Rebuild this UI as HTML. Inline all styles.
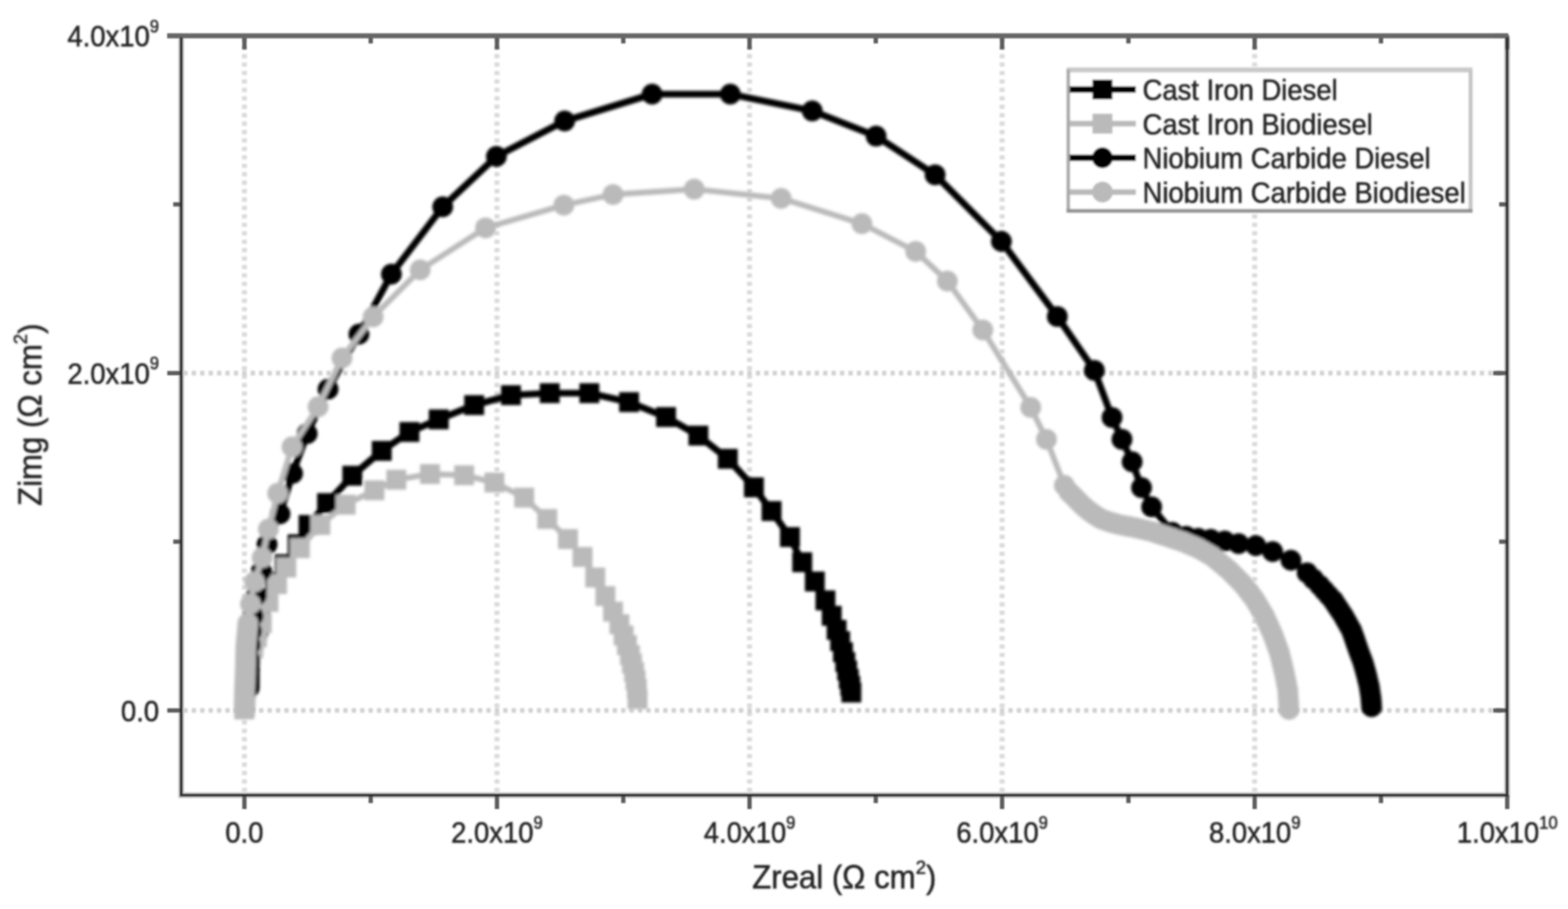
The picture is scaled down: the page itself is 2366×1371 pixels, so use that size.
<!DOCTYPE html>
<html lang="en"><head><meta charset="utf-8"><title>Nyquist plot</title>
<style>
html,body{margin:0;padding:0;background:#fff;}
body{width:2366px;height:1371px;overflow:hidden;}
svg{display:block;}
text{font-family:"Liberation Sans",Arial,sans-serif;fill:#222;stroke:#222;stroke-width:0.7px;}
.tk{font-size:41.4px;}
.sp{font-size:25px;}
.ax{font-size:47px;}
.sa{font-size:28px;}
.lg{font-size:41.4px;}
</style></head><body>
<svg width="2366" height="1371" viewBox="0 0 2366 1371">
<defs>
<filter id="bg" filterUnits="userSpaceOnUse" x="0" y="0" width="2366" height="1371"><feGaussianBlur stdDeviation="1.5"/></filter>
<filter id="bf" filterUnits="userSpaceOnUse" x="0" y="0" width="2366" height="1371"><feGaussianBlur stdDeviation="1.3"/></filter>
<filter id="bs" filterUnits="userSpaceOnUse" x="0" y="0" width="2366" height="1371"><feGaussianBlur stdDeviation="1.9"/></filter>
<filter id="bt" filterUnits="userSpaceOnUse" x="0" y="0" width="2366" height="1371"><feGaussianBlur stdDeviation="1.7"/></filter>
<filter id="bl" filterUnits="userSpaceOnUse" x="0" y="0" width="2366" height="1371"><feGaussianBlur stdDeviation="1.6"/></filter>
</defs>
<rect width="2366" height="1371" fill="#fff"/>
<g filter="url(#bg)" fill="none"><path d="M368.8 53.5V1199.2M749.9 53.5V1199.2M1131 53.5V1199.2M1512.1 53.5V1199.2M1893.2 53.5V1199.2" stroke="#d9d9d9" stroke-width="7.5" stroke-dasharray="6.36 6.36" stroke-dashoffset="-2.6"/><path d="M273.4 1071.5H2274.1M273.4 562.7H2274.1" stroke="#cfcfcf" stroke-width="7" stroke-dasharray="6.35 6.353" stroke-dashoffset="9.4"/></g>
<g filter="url(#bs)">
<polyline fill="none" stroke="#050505" stroke-width="10.2" stroke-linejoin="round" points="369,1066 369.3,1060 369.7,1054 370,1048 370.3,1042 370.7,1036 371,1030 371.6,1024 372.2,1018 372.8,1012 373.4,1006 374,1000 375.3,994 376.7,988 378,982 379.5,976.8 381,971.5 382.5,966.2 384,961 386,955.2 388,949.5 390,943.8 392,938 402,906 415,878 429.5,851 449,821 465.6,791.7 493.5,758.7 531.6,717.5 576,680 617.8,651.6 662,632.5 715.5,611 771,596 829.5,593 889.3,593 949.2,606.4 1005,629 1053.8,657 1098.2,692 1137.6,735 1164.2,770.7 1192,810 1210.5,848 1229.5,877 1245.5,905.6 1255,928.8 1262.4,950 1267.7,967 1272,983.8 1275.5,998.6 1278.3,1011.3 1280.8,1024 1283,1034.6 1284.6,1044.5"/>
<path fill="#050505" d="M354 1051h30v30h-30zM354.3 1045h30v30h-30zM354.7 1039h30v30h-30zM355 1033h30v30h-30zM355.3 1027h30v30h-30zM355.7 1021h30v30h-30zM356 1015h30v30h-30zM356.6 1009h30v30h-30zM357.2 1003h30v30h-30zM357.8 997h30v30h-30zM358.4 991h30v30h-30zM359 985h30v30h-30zM360.3 979h30v30h-30zM361.7 973h30v30h-30zM363 967h30v30h-30zM364.5 961.8h30v30h-30zM366 956.5h30v30h-30zM367.5 951.2h30v30h-30zM369 946h30v30h-30zM371 940.2h30v30h-30zM373 934.5h30v30h-30zM375 928.8h30v30h-30zM377 923h30v30h-30zM387 891h30v30h-30zM400 863h30v30h-30zM414.5 836h30v30h-30zM434 806h30v30h-30zM450.6 776.7h30v30h-30zM478.5 743.7h30v30h-30zM516.6 702.5h30v30h-30zM561 665h30v30h-30zM602.8 636.6h30v30h-30zM647 617.5h30v30h-30zM700.5 596h30v30h-30zM756 581h30v30h-30zM814.5 578h30v30h-30zM874.3 578h30v30h-30zM934.2 591.4h30v30h-30zM990 614h30v30h-30zM1038.8 642h30v30h-30zM1083.2 677h30v30h-30zM1122.6 720h30v30h-30zM1149.2 755.7h30v30h-30zM1177 795h30v30h-30zM1195.5 833h30v30h-30zM1214.5 862h30v30h-30zM1230.5 890.6h30v30h-30zM1240 913.8h30v30h-30zM1247.4 935h30v30h-30zM1252.7 952h30v30h-30zM1257 968.8h30v30h-30zM1260.5 983.6h30v30h-30zM1263.3 996.3h30v30h-30zM1265.8 1009h30v30h-30zM1268 1019.6h30v30h-30zM1269.6 1029.5h30v30h-30z"/>
<polyline fill="none" stroke="#bababa" stroke-width="8.6" stroke-linejoin="round" points="368.5,1070 368.9,1063.3 369.3,1056.7 369.8,1050 370.2,1043.3 370.6,1036.7 371,1030 371.9,1023.8 372.8,1017.5 373.6,1011.2 374.5,1005 375.7,1000 376.8,995 378,990 382,978 387.5,961 395,940 405,908 418,881 432,856 452.5,826.7 483.4,791.7 521.5,761.2 565,739.5 598,723.5 648.8,715 700.4,716.7 746,727.7 791,750.5 825.7,782.7 857,813 879,840 898.2,871 913.5,899 925,922.5 934.6,941.5 941,958.4 946,973 950.5,988 953.6,1000.7 956.8,1013.4 959,1026 961,1039 962,1054.5"/>
<path fill="#bababa" d="M353.5 1055h30v30h-30zM353.9 1048.3h30v30h-30zM354.3 1041.7h30v30h-30zM354.8 1035h30v30h-30zM355.2 1028.3h30v30h-30zM355.6 1021.7h30v30h-30zM356 1015h30v30h-30zM356.9 1008.8h30v30h-30zM357.8 1002.5h30v30h-30zM358.6 996.2h30v30h-30zM359.5 990h30v30h-30zM360.7 985h30v30h-30zM361.8 980h30v30h-30zM363 975h30v30h-30zM367 963h30v30h-30zM372.5 946h30v30h-30zM380 925h30v30h-30zM390 893h30v30h-30zM403 866h30v30h-30zM417 841h30v30h-30zM437.5 811.7h30v30h-30zM468.4 776.7h30v30h-30zM506.5 746.2h30v30h-30zM550 724.5h30v30h-30zM583 708.5h30v30h-30zM633.8 700h30v30h-30zM685.4 701.7h30v30h-30zM731 712.7h30v30h-30zM776 735.5h30v30h-30zM810.7 767.7h30v30h-30zM842 798h30v30h-30zM864 825h30v30h-30zM883.2 856h30v30h-30zM898.5 884h30v30h-30zM910 907.5h30v30h-30zM919.6 926.5h30v30h-30zM926 943.4h30v30h-30zM931 958h30v30h-30zM935.5 973h30v30h-30zM938.6 985.7h30v30h-30zM941.8 998.4h30v30h-30zM944 1011h30v30h-30zM946 1024h30v30h-30zM947 1039.5h30v30h-30z"/>
<polyline fill="none" stroke="#050505" stroke-width="10.2" stroke-linejoin="round" points="376,1037 376,1031.5 376,1026 376,1020.5 376,1015 376.1,1010 376.2,1005 376.4,1000 376.5,995 377.5,972.5 379.5,952 382,929 387,898 394.5,861 403,821 422.5,775 441.5,714 463.5,654 495,587 541.6,504 590.6,413.5 668,312 749,236 852,182.5 984,142 1102,142 1225.6,167.3 1322,205.3 1411,263.7 1511,364 1595.4,477.4 1651.3,558.6 1678,629.7 1693,662.7 1708.3,696.5 1722.5,735.5 1737.7,764.5 1769,803 1790,809 1808,812 1827,813.5 1848,816 1869,820 1895,823 1920.4,832 1948,845 1972.4,864 1982,873.5 1991.5,883 1998.3,890.6 2005,898.1 2011.8,905.7 2011.8,905.7 2014.8,910.3 2017.9,914.9 2020.9,919.4 2024,924 2027,928.6 2029.5,933.2 2032.1,937.7 2034.6,942.3 2037.2,946.8 2039.7,951.4 2041.3,956.2 2043,960.9 2044.7,965.7 2046.3,970.5 2047.9,975.2 2049.6,980 2051.4,985 2053.3,990 2055.2,995 2057,1000 2058.2,1004.5 2059.5,1009 2060.8,1013.5 2062,1018 2063.3,1023.7 2064.7,1029.3 2066,1035 2066.9,1040.7 2067.7,1046.3 2068.6,1052 2069,1056.7 2069.3,1061.3 2069.7,1066"/>
<g fill="#050505"><circle cx="376" cy="1037" r="15.7"/><circle cx="376" cy="1031.5" r="15.7"/><circle cx="376" cy="1026" r="15.7"/><circle cx="376" cy="1020.5" r="15.7"/><circle cx="376" cy="1015" r="15.7"/><circle cx="376.1" cy="1010" r="15.7"/><circle cx="376.2" cy="1005" r="15.7"/><circle cx="376.4" cy="1000" r="15.7"/><circle cx="376.5" cy="995" r="15.7"/><circle cx="377.5" cy="972.5" r="15.7"/><circle cx="379.5" cy="952" r="15.7"/><circle cx="382" cy="929" r="15.7"/><circle cx="387" cy="898" r="15.7"/><circle cx="394.5" cy="861" r="15.7"/><circle cx="403" cy="821" r="15.7"/><circle cx="422.5" cy="775" r="15.7"/><circle cx="441.5" cy="714" r="15.7"/><circle cx="463.5" cy="654" r="15.7"/><circle cx="495" cy="587" r="15.7"/><circle cx="541.6" cy="504" r="15.7"/><circle cx="590.6" cy="413.5" r="15.7"/><circle cx="668" cy="312" r="15.7"/><circle cx="749" cy="236" r="15.7"/><circle cx="852" cy="182.5" r="15.7"/><circle cx="984" cy="142" r="15.7"/><circle cx="1102" cy="142" r="15.7"/><circle cx="1225.6" cy="167.3" r="15.7"/><circle cx="1322" cy="205.3" r="15.7"/><circle cx="1411" cy="263.7" r="15.7"/><circle cx="1511" cy="364" r="15.7"/><circle cx="1595.4" cy="477.4" r="15.7"/><circle cx="1651.3" cy="558.6" r="15.7"/><circle cx="1678" cy="629.7" r="15.7"/><circle cx="1693" cy="662.7" r="15.7"/><circle cx="1708.3" cy="696.5" r="15.7"/><circle cx="1722.5" cy="735.5" r="15.7"/><circle cx="1737.7" cy="764.5" r="15.7"/><circle cx="1769" cy="803" r="15.7"/><circle cx="1790" cy="809" r="15.7"/><circle cx="1808" cy="812" r="15.7"/><circle cx="1827" cy="813.5" r="15.7"/><circle cx="1848" cy="816" r="15.7"/><circle cx="1869" cy="820" r="15.7"/><circle cx="1895" cy="823" r="15.7"/><circle cx="1920.4" cy="832" r="15.7"/><circle cx="1948" cy="845" r="15.7"/><circle cx="1972.4" cy="864" r="15.7"/><circle cx="1982" cy="873.5" r="15.7"/><circle cx="1991.5" cy="883" r="15.7"/><circle cx="1998.3" cy="890.6" r="15.7"/><circle cx="2005" cy="898.1" r="15.7"/><circle cx="2011.8" cy="905.7" r="15.7"/><circle cx="2011.8" cy="905.7" r="15.7"/><circle cx="2014.8" cy="910.3" r="15.7"/><circle cx="2017.9" cy="914.9" r="15.7"/><circle cx="2020.9" cy="919.4" r="15.7"/><circle cx="2024" cy="924" r="15.7"/><circle cx="2027" cy="928.6" r="15.7"/><circle cx="2029.5" cy="933.2" r="15.7"/><circle cx="2032.1" cy="937.7" r="15.7"/><circle cx="2034.6" cy="942.3" r="15.7"/><circle cx="2037.2" cy="946.8" r="15.7"/><circle cx="2039.7" cy="951.4" r="15.7"/><circle cx="2041.3" cy="956.2" r="15.7"/><circle cx="2043" cy="960.9" r="15.7"/><circle cx="2044.7" cy="965.7" r="15.7"/><circle cx="2046.3" cy="970.5" r="15.7"/><circle cx="2047.9" cy="975.2" r="15.7"/><circle cx="2049.6" cy="980" r="15.7"/><circle cx="2051.4" cy="985" r="15.7"/><circle cx="2053.3" cy="990" r="15.7"/><circle cx="2055.2" cy="995" r="15.7"/><circle cx="2057" cy="1000" r="15.7"/><circle cx="2058.2" cy="1004.5" r="15.7"/><circle cx="2059.5" cy="1009" r="15.7"/><circle cx="2060.8" cy="1013.5" r="15.7"/><circle cx="2062" cy="1018" r="15.7"/><circle cx="2063.3" cy="1023.7" r="15.7"/><circle cx="2064.7" cy="1029.3" r="15.7"/><circle cx="2066" cy="1035" r="15.7"/><circle cx="2066.9" cy="1040.7" r="15.7"/><circle cx="2067.7" cy="1046.3" r="15.7"/><circle cx="2068.6" cy="1052" r="15.7"/><circle cx="2069" cy="1056.7" r="15.7"/><circle cx="2069.3" cy="1061.3" r="15.7"/><circle cx="2069.7" cy="1066" r="15.7"/></g>
<polyline fill="none" stroke="#bababa" stroke-width="8.6" stroke-linejoin="round" points="368.5,1070 368.6,1064 368.7,1058 368.8,1052 368.9,1046 369,1040 369.2,1034.2 369.5,1028.5 369.8,1022.8 370,1017 370.1,1010.9 370.3,1004.7 370.4,998.6 370.6,992.4 370.7,986.3 370.9,980.1 371,974 371.6,967.2 372.2,960.4 372.8,953.6 373.4,946.8 374,940 378,911 384,877.7 395.6,841 405,798 419,744 440.6,674 480,613.5 516,540 563,478 634,407 732.7,343.7 850.8,309.4 925,293.4 1047.5,285.3 1178.7,299.2 1300.5,337.3 1381.7,379.2 1429.5,424 1483,497.7 1555.3,614.5 1579,662.7 1606,732 1613,742 1617.2,746 1621.3,750 1626.2,755 1631,760 1636.3,764.8 1641.7,769.5 1646.8,773.2 1652,777 1657,780 1662,783 1668.5,785.2 1675,787.5 1681.3,789.2 1687.7,791 1696.2,792.7 1704.7,794.3 1713.2,796 1721.7,798 1730.3,800 1738.8,802 1746,804.3 1753.2,806.7 1760.4,809 1768.8,811.8 1777.3,814.7 1785.7,817.5 1793.1,820.7 1800.6,823.8 1808,827 1815,831 1822,835 1829,839 1835.3,844.2 1841.7,849.5 1848.1,854.8 1854.4,860 1859.5,865.1 1864.6,870.2 1869.6,875.3 1874.7,880.4 1879.2,886 1883.6,891.7 1888,897.4 1892.5,903 1896.3,909.4 1900.1,915.8 1903.9,922.2 1907.7,928.6 1910.9,935.6 1914.1,942.5 1917.2,949.5 1920.4,956.5 1923,963.5 1925.5,970.5 1928,977.4 1930.6,984.4 1932.4,992 1934.3,999.7 1936.2,1007.4 1938,1015 1939.7,1023.3 1941.3,1031.7 1943,1040 1943.5,1047.5 1944,1055 1944.5,1062.5 1945,1070"/>
<g fill="#bababa"><circle cx="368.5" cy="1070" r="15.7"/><circle cx="368.6" cy="1064" r="15.7"/><circle cx="368.7" cy="1058" r="15.7"/><circle cx="368.8" cy="1052" r="15.7"/><circle cx="368.9" cy="1046" r="15.7"/><circle cx="369" cy="1040" r="15.7"/><circle cx="369.2" cy="1034.2" r="15.7"/><circle cx="369.5" cy="1028.5" r="15.7"/><circle cx="369.8" cy="1022.8" r="15.7"/><circle cx="370" cy="1017" r="15.7"/><circle cx="370.1" cy="1010.9" r="15.7"/><circle cx="370.3" cy="1004.7" r="15.7"/><circle cx="370.4" cy="998.6" r="15.7"/><circle cx="370.6" cy="992.4" r="15.7"/><circle cx="370.7" cy="986.3" r="15.7"/><circle cx="370.9" cy="980.1" r="15.7"/><circle cx="371" cy="974" r="15.7"/><circle cx="371.6" cy="967.2" r="15.7"/><circle cx="372.2" cy="960.4" r="15.7"/><circle cx="372.8" cy="953.6" r="15.7"/><circle cx="373.4" cy="946.8" r="15.7"/><circle cx="374" cy="940" r="15.7"/><circle cx="378" cy="911" r="15.7"/><circle cx="384" cy="877.7" r="15.7"/><circle cx="395.6" cy="841" r="15.7"/><circle cx="405" cy="798" r="15.7"/><circle cx="419" cy="744" r="15.7"/><circle cx="440.6" cy="674" r="15.7"/><circle cx="480" cy="613.5" r="15.7"/><circle cx="516" cy="540" r="15.7"/><circle cx="563" cy="478" r="15.7"/><circle cx="634" cy="407" r="15.7"/><circle cx="732.7" cy="343.7" r="15.7"/><circle cx="850.8" cy="309.4" r="15.7"/><circle cx="925" cy="293.4" r="15.7"/><circle cx="1047.5" cy="285.3" r="15.7"/><circle cx="1178.7" cy="299.2" r="15.7"/><circle cx="1300.5" cy="337.3" r="15.7"/><circle cx="1381.7" cy="379.2" r="15.7"/><circle cx="1429.5" cy="424" r="15.7"/><circle cx="1483" cy="497.7" r="15.7"/><circle cx="1555.3" cy="614.5" r="15.7"/><circle cx="1579" cy="662.7" r="15.7"/><circle cx="1606" cy="732" r="15.7"/><circle cx="1613" cy="742" r="15.7"/><circle cx="1617.2" cy="746" r="15.7"/><circle cx="1621.3" cy="750" r="15.7"/><circle cx="1626.2" cy="755" r="15.7"/><circle cx="1631" cy="760" r="15.7"/><circle cx="1636.3" cy="764.8" r="15.7"/><circle cx="1641.7" cy="769.5" r="15.7"/><circle cx="1646.8" cy="773.2" r="15.7"/><circle cx="1652" cy="777" r="15.7"/><circle cx="1657" cy="780" r="15.7"/><circle cx="1662" cy="783" r="15.7"/><circle cx="1668.5" cy="785.2" r="15.7"/><circle cx="1675" cy="787.5" r="15.7"/><circle cx="1681.3" cy="789.2" r="15.7"/><circle cx="1687.7" cy="791" r="15.7"/><circle cx="1696.2" cy="792.7" r="15.7"/><circle cx="1704.7" cy="794.3" r="15.7"/><circle cx="1713.2" cy="796" r="15.7"/><circle cx="1721.7" cy="798" r="15.7"/><circle cx="1730.3" cy="800" r="15.7"/><circle cx="1738.8" cy="802" r="15.7"/><circle cx="1746" cy="804.3" r="15.7"/><circle cx="1753.2" cy="806.7" r="15.7"/><circle cx="1760.4" cy="809" r="15.7"/><circle cx="1768.8" cy="811.8" r="15.7"/><circle cx="1777.3" cy="814.7" r="15.7"/><circle cx="1785.7" cy="817.5" r="15.7"/><circle cx="1793.1" cy="820.7" r="15.7"/><circle cx="1800.6" cy="823.8" r="15.7"/><circle cx="1808" cy="827" r="15.7"/><circle cx="1815" cy="831" r="15.7"/><circle cx="1822" cy="835" r="15.7"/><circle cx="1829" cy="839" r="15.7"/><circle cx="1835.3" cy="844.2" r="15.7"/><circle cx="1841.7" cy="849.5" r="15.7"/><circle cx="1848.1" cy="854.8" r="15.7"/><circle cx="1854.4" cy="860" r="15.7"/><circle cx="1859.5" cy="865.1" r="15.7"/><circle cx="1864.6" cy="870.2" r="15.7"/><circle cx="1869.6" cy="875.3" r="15.7"/><circle cx="1874.7" cy="880.4" r="15.7"/><circle cx="1879.2" cy="886" r="15.7"/><circle cx="1883.6" cy="891.7" r="15.7"/><circle cx="1888" cy="897.4" r="15.7"/><circle cx="1892.5" cy="903" r="15.7"/><circle cx="1896.3" cy="909.4" r="15.7"/><circle cx="1900.1" cy="915.8" r="15.7"/><circle cx="1903.9" cy="922.2" r="15.7"/><circle cx="1907.7" cy="928.6" r="15.7"/><circle cx="1910.9" cy="935.6" r="15.7"/><circle cx="1914.1" cy="942.5" r="15.7"/><circle cx="1917.2" cy="949.5" r="15.7"/><circle cx="1920.4" cy="956.5" r="15.7"/><circle cx="1923" cy="963.5" r="15.7"/><circle cx="1925.5" cy="970.5" r="15.7"/><circle cx="1928" cy="977.4" r="15.7"/><circle cx="1930.6" cy="984.4" r="15.7"/><circle cx="1932.4" cy="992" r="15.7"/><circle cx="1934.3" cy="999.7" r="15.7"/><circle cx="1936.2" cy="1007.4" r="15.7"/><circle cx="1938" cy="1015" r="15.7"/><circle cx="1939.7" cy="1023.3" r="15.7"/><circle cx="1941.3" cy="1031.7" r="15.7"/><circle cx="1943" cy="1040" r="15.7"/><circle cx="1943.5" cy="1047.5" r="15.7"/><circle cx="1944" cy="1055" r="15.7"/><circle cx="1944.5" cy="1062.5" r="15.7"/><circle cx="1945" cy="1070" r="15.7"/></g>
</g>
<g filter="url(#bf)" fill="none">
<path d="M273.4 57.5V1199.2H2274.1V57.5" stroke="#cdcdcd" stroke-width="9"/>
<path d="M368.8 1199.2v21M368.8 53.5v21M559.4 1199.2v12M559.4 53.5v12M749.9 1199.2v21M749.9 53.5v21M940.5 1199.2v12M940.5 53.5v12M1131 1199.2v21M1131 53.5v21M1321.5 1199.2v12M1321.5 53.5v12M1512.1 1199.2v21M1512.1 53.5v21M1702.7 1199.2v12M1702.7 53.5v12M1893.2 1199.2v21M1893.2 53.5v21M2083.8 1199.2v12M2083.8 53.5v12M2274.3 1199.2v21M2274.3 53.5v21M273.4 1071.5h-21M2274.1 1071.5h-21M273.4 817.1h-12M2274.1 817.1h-12M273.4 562.7h-21M2274.1 562.7h-21M273.4 308.3h-12M2274.1 308.3h-12M273.4 53.9h-21M2274.1 53.9h-21" stroke="#5c5c5c" stroke-width="6.5"/>
<path d="M252.4 54H2276.1" stroke="#666" stroke-width="7.5"/>
<path d="M273.4 56.5V1199.2H2274.1V56.5" stroke="#2e2e2e" stroke-width="4.6"/>
</g>
<g filter="url(#bl)">
<rect x="1612" y="107" width="607" height="211" fill="#fff"/>
<path d="M1609.5 105.5H2222" fill="none" stroke="#c9c9c9" stroke-width="7.5"/>
<path d="M2219 107V318" fill="none" stroke="#c4c4c4" stroke-width="6"/>
<path d="M1612 105V320" fill="none" stroke="#a6a6a6" stroke-width="5"/>
<path d="M1609.5 318H2222" fill="none" stroke="#909090" stroke-width="5.5"/>
<path d="M1614 135H1714" stroke="#050505" stroke-width="10.2"/><path fill="#050505" d="M1648.5 120h30v30h-30z"/>
<path d="M1614 186.5H1714" stroke="#bababa" stroke-width="8.6"/><path fill="#bababa" d="M1648.5 171.5h30v30h-30z"/>
<path d="M1614 238H1714" stroke="#050505" stroke-width="10.2"/><g fill="#050505"><circle cx="1663.5" cy="238" r="15.7"/></g>
<path d="M1614 289.7H1714" stroke="#bababa" stroke-width="8.6"/><g fill="#bababa"><circle cx="1663.5" cy="289.7" r="15.7"/></g>
</g>
<g filter="url(#bt)">
<text class="lg" transform="translate(1724 151) scale(1 1.07)" text-anchor="start">Cast Iron Diesel</text>
<text class="lg" transform="translate(1724 202.5) scale(1 1.07)" text-anchor="start">Cast Iron Biodiesel</text>
<text class="lg" transform="translate(1724 254) scale(1 1.07)" text-anchor="start">Niobium Carbide Diesel</text>
<text class="lg" transform="translate(1724 305.7) scale(1 1.07)" text-anchor="start">Niobium Carbide Biodiesel</text>
<text class="tk" transform="translate(368.8 1271) scale(1 1.07)" text-anchor="middle">0.0</text>
<text class="tk" transform="translate(749.9 1271) scale(1 1.07)" text-anchor="middle">2.0x10<tspan class="sp" dy="-20">9</tspan></text>
<text class="tk" transform="translate(1131 1271) scale(1 1.07)" text-anchor="middle">4.0x10<tspan class="sp" dy="-20">9</tspan></text>
<text class="tk" transform="translate(1512.1 1271) scale(1 1.07)" text-anchor="middle">6.0x10<tspan class="sp" dy="-20">9</tspan></text>
<text class="tk" transform="translate(1893.2 1271) scale(1 1.07)" text-anchor="middle">8.0x10<tspan class="sp" dy="-20">9</tspan></text>
<text class="tk" transform="translate(2274.3 1271) scale(1 1.07)" text-anchor="middle">1.0x10<tspan class="sp" dy="-20">10</tspan></text>
<text class="tk" transform="translate(240 1087.5) scale(1 1.07)" text-anchor="end">0.0</text>
<text class="tk" transform="translate(240 578.7) scale(1 1.07)" text-anchor="end">2.0x10<tspan class="sp" dy="-20">9</tspan></text>
<text class="tk" transform="translate(240 69.9) scale(1 1.07)" text-anchor="end">4.0x10<tspan class="sp" dy="-20">9</tspan></text>
<text class="ax" transform="translate(1274 1340) scale(1 1.07)" text-anchor="middle">Zreal (Ω cm<tspan class="sa" dy="-21">2</tspan><tspan dy="21">)</tspan></text>
<text class="ax" transform="translate(63 625.5) rotate(-90) scale(1 1.07)" text-anchor="middle">Zimg (Ω cm<tspan class="sa" dy="-21">2</tspan><tspan dy="21">)</tspan></text>
</g>
</svg>
</body></html>
